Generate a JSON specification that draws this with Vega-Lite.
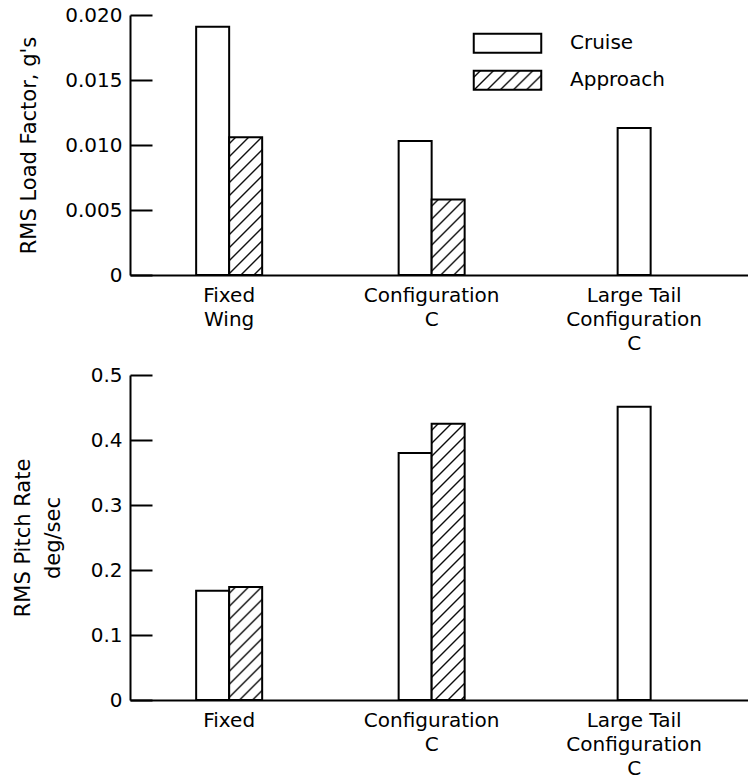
{
  "$schema": "https://vega.github.io/schema/vega-lite/v6.json",
  "padding": {"left": 12, "top": 5, "right": 0, "bottom": 0},
  "spacing": 12,
  "config": {
    "view": {"stroke": null},
    "font": "DejaVu Sans",
    "axis": {"domainColor": "black", "domainWidth": 2, "labelColor": "black", "titleColor": "black", "labelFontSize": 20, "titleFontSize": 21, "titleFontWeight": "normal", "grid": false, "labelFont": "DejaVu Sans", "titleFont": "DejaVu Sans"},
    "legend": {"labelFont": "DejaVu Sans", "title": null, "orient": "none", "direction": "vertical", "symbolType": "M-2.5,-0.7H2.5V0.7H-2.5Z", "symbolSize": 729, "symbolStrokeWidth": 2, "symbolStrokeColor": "black", "labelFontSize": 20, "labelColor": "black", "labelOffset": 48}
  },
  "vconcat": [
    {
      "width": 618,
      "height": 260,
      "data": {"values": [
        {"group": "Fixed Wing", "series": "Cruise", "value": 0.0191},
        {"group": "Fixed Wing", "series": "Approach", "value": 0.0106},
        {"group": "Configuration C", "series": "Cruise", "value": 0.0103},
        {"group": "Configuration C", "series": "Approach", "value": 0.0058},
        {"group": "Large Tail Configuration C", "series": "Cruise", "value": 0.0113}
      ]},
      "resolve": {"scale": {"stroke": "independent"}, "legend": {"stroke": "independent"}},
      "encoding": {
        "x": {"field": "group", "type": "nominal",
          "scale": {"domain": ["Fixed Wing", "Configuration C", "Large Tail Configuration C"], "paddingInner": 0.674, "paddingOuter": 0.363, "align": 0.45},
          "axis": {"title": null, "ticks": false, "labelAngle": 0, "labelPadding": 10, "labelLineHeight": 24, "labelOverlap": false, "labelFlush": false,
            "labelExpr": "datum.value == 'Large Tail Configuration C' ? ['Large Tail','Configuration','C'] : datum.value == 'Configuration C' ? ['Configuration','C'] : datum.value == 'Fixed Wing' ? ['Fixed','Wing'] : datum.value"}},
        "y": {"field": "value", "type": "quantitative",
          "scale": {"domain": [0, 0.02], "nice": false},
          "axis": {"title": "RMS Load Factor, g's", "values": [0, 0.005, 0.01, 0.015, 0.02], "labelExpr": "datum.value == 0 ? '0' : format(datum.value, '.3f')", "tickSize": -22, "tickWidth": 2, "tickColor": "black", "labelPadding": 30, "titlePadding": 25}}
      },
      "layer": [
        {
          "transform": [{"filter": "datum.series == 'Cruise' && datum.group != 'Large Tail Configuration C'"}],
          "mark": {"type": "bar", "strokeWidth": 2},
          "encoding": {
            "xOffset": {"field": "series", "type": "nominal", "scale": {"domain": ["Cruise", "Approach"], "paddingInner": 0, "paddingOuter": 0}},
            "fill": {"value": "white"},
            "stroke": {"field": "series", "type": "nominal", "scale": {"domain": ["Cruise"], "range": ["black"]},
              "legend": {"legendX": 363, "legendY": 13.8}}
          }
        },
        {
          "transform": [{"filter": "datum.series == 'Approach'"}],
          "mark": {"type": "bar", "strokeWidth": 2},
          "encoding": {
            "xOffset": {"field": "series", "type": "nominal", "scale": {"domain": ["Cruise", "Approach"], "paddingInner": 0, "paddingOuter": 0}},
            "stroke": {"field": "series", "type": "nominal", "scale": {"domain": ["Approach"], "range": ["black"]},
              "legend": {"legendX": 363, "legendY": 50.8}},
            "fill": {
              "condition": [
                {"test": "datum.group == 'Fixed Wing'", "value": {"gradient": "linear", "x1": 0, "y1": 0, "x2": 0.5128, "y2": 2.1414, "stops": [{"offset":0.0148,"color":"#fff"},{"offset":0.0208,"color":"#000"},{"offset":0.0268,"color":"#fff"},{"offset":0.0565,"color":"#fff"},{"offset":0.0625,"color":"#000"},{"offset":0.0685,"color":"#fff"},{"offset":0.0982,"color":"#fff"},{"offset":0.1042,"color":"#000"},{"offset":0.1102,"color":"#fff"},{"offset":0.1398,"color":"#fff"},{"offset":0.1458,"color":"#000"},{"offset":0.1518,"color":"#fff"},{"offset":0.1815,"color":"#fff"},{"offset":0.1875,"color":"#000"},{"offset":0.1935,"color":"#fff"},{"offset":0.2232,"color":"#fff"},{"offset":0.2292,"color":"#000"},{"offset":0.2352,"color":"#fff"},{"offset":0.2648,"color":"#fff"},{"offset":0.2708,"color":"#000"},{"offset":0.2768,"color":"#fff"},{"offset":0.3065,"color":"#fff"},{"offset":0.3125,"color":"#000"},{"offset":0.3185,"color":"#fff"},{"offset":0.3482,"color":"#fff"},{"offset":0.3542,"color":"#000"},{"offset":0.3602,"color":"#fff"},{"offset":0.3898,"color":"#fff"},{"offset":0.3958,"color":"#000"},{"offset":0.4018,"color":"#fff"},{"offset":0.4315,"color":"#fff"},{"offset":0.4375,"color":"#000"},{"offset":0.4435,"color":"#fff"},{"offset":0.4732,"color":"#fff"},{"offset":0.4792,"color":"#000"},{"offset":0.4852,"color":"#fff"},{"offset":0.5148,"color":"#fff"},{"offset":0.5208,"color":"#000"},{"offset":0.5268,"color":"#fff"},{"offset":0.5565,"color":"#fff"},{"offset":0.5625,"color":"#000"},{"offset":0.5685,"color":"#fff"}]}},
                {"test": "datum.group == 'Configuration C'", "value": {"gradient": "linear", "x1": 0, "y1": 0, "x2": 1.52, "y2": 3.4727, "stops": [{"offset":0.0148,"color":"#fff"},{"offset":0.0208,"color":"#000"},{"offset":0.0268,"color":"#fff"},{"offset":0.0565,"color":"#fff"},{"offset":0.0625,"color":"#000"},{"offset":0.0685,"color":"#fff"},{"offset":0.0982,"color":"#fff"},{"offset":0.1042,"color":"#000"},{"offset":0.1102,"color":"#fff"},{"offset":0.1398,"color":"#fff"},{"offset":0.1458,"color":"#000"},{"offset":0.1518,"color":"#fff"},{"offset":0.1815,"color":"#fff"},{"offset":0.1875,"color":"#000"},{"offset":0.1935,"color":"#fff"},{"offset":0.2232,"color":"#fff"},{"offset":0.2292,"color":"#000"},{"offset":0.2352,"color":"#fff"},{"offset":0.2648,"color":"#fff"},{"offset":0.2708,"color":"#000"},{"offset":0.2768,"color":"#fff"},{"offset":0.3065,"color":"#fff"},{"offset":0.3125,"color":"#000"},{"offset":0.3185,"color":"#fff"},{"offset":0.3482,"color":"#fff"},{"offset":0.3542,"color":"#000"},{"offset":0.3602,"color":"#fff"}]}}
              ],
              "value": {"gradient": "linear", "x1": 0, "y1": 0, "x2": 4.31, "y2": 1.2223, "stops": [{"offset":0.0148,"color":"#fff"},{"offset":0.0208,"color":"#000"},{"offset":0.0268,"color":"#fff"},{"offset":0.0565,"color":"#fff"},{"offset":0.0625,"color":"#000"},{"offset":0.0685,"color":"#fff"},{"offset":0.0982,"color":"#fff"},{"offset":0.1042,"color":"#000"},{"offset":0.1102,"color":"#fff"},{"offset":0.1398,"color":"#fff"},{"offset":0.1458,"color":"#000"},{"offset":0.1518,"color":"#fff"},{"offset":0.1815,"color":"#fff"},{"offset":0.1875,"color":"#000"},{"offset":0.1935,"color":"#fff"},{"offset":0.2232,"color":"#fff"},{"offset":0.2292,"color":"#000"},{"offset":0.2352,"color":"#fff"},{"offset":0.2648,"color":"#fff"},{"offset":0.2708,"color":"#000"},{"offset":0.2768,"color":"#fff"}]}
            }
          }
        },
        {
          "transform": [{"filter": "datum.group == 'Large Tail Configuration C'"}],
          "mark": {"type": "bar", "fill": "white", "stroke": "black", "strokeWidth": 2, "width": {"band": 0.5}},
          "encoding": {}
        }
      ]
    },
    {
      "width": 618,
      "height": 325,
      "data": {"values": [
        {"group": "Fixed", "series": "Cruise", "value": 0.168},
        {"group": "Fixed", "series": "Approach", "value": 0.174},
        {"group": "Configuration C", "series": "Cruise", "value": 0.38},
        {"group": "Configuration C", "series": "Approach", "value": 0.425},
        {"group": "Large Tail Configuration C", "series": "Cruise", "value": 0.451}
      ]},
      "encoding": {
        "x": {"field": "group", "type": "nominal",
          "scale": {"domain": ["Fixed", "Configuration C", "Large Tail Configuration C"], "paddingInner": 0.674, "paddingOuter": 0.363, "align": 0.45},
          "axis": {"title": null, "ticks": false, "labelAngle": 0, "labelPadding": 10, "labelLineHeight": 24, "labelOverlap": false, "labelFlush": false,
            "labelExpr": "datum.value == 'Large Tail Configuration C' ? ['Large Tail','Configuration','C'] : datum.value == 'Configuration C' ? ['Configuration','C'] : datum.value"}},
        "y": {"field": "value", "type": "quantitative",
          "scale": {"domain": [0, 0.5], "nice": false},
          "axis": {"title": ["RMS Pitch Rate", "deg/sec"], "titleLineHeight": 30, "values": [0, 0.1, 0.2, 0.3, 0.4, 0.5], "labelExpr": "datum.value == 0 ? '0' : format(datum.value, '.1f')", "tickSize": -22, "tickWidth": 2, "tickColor": "black", "labelPadding": 30, "titlePadding": 27}}
      },
      "layer": [
        {
          "transform": [{"filter": "datum.group != 'Large Tail Configuration C'"}],
          "mark": {"type": "bar", "strokeWidth": 2, "stroke": "black"},
          "encoding": {
            "xOffset": {"field": "series", "type": "nominal", "scale": {"domain": ["Cruise", "Approach"], "paddingInner": 0, "paddingOuter": 0}},
            "fill": {
              "condition": [
                {"test": "datum.series == 'Approach' && datum.group == 'Fixed'", "value": {"gradient": "linear", "x1": 0, "y1": 0, "x2": 0.7417, "y2": 2.5421, "stops": [{"offset":0.0148,"color":"#fff"},{"offset":0.0208,"color":"#000"},{"offset":0.0268,"color":"#fff"},{"offset":0.0565,"color":"#fff"},{"offset":0.0625,"color":"#000"},{"offset":0.0685,"color":"#fff"},{"offset":0.0982,"color":"#fff"},{"offset":0.1042,"color":"#000"},{"offset":0.1102,"color":"#fff"},{"offset":0.1398,"color":"#fff"},{"offset":0.1458,"color":"#000"},{"offset":0.1518,"color":"#fff"},{"offset":0.1815,"color":"#fff"},{"offset":0.1875,"color":"#000"},{"offset":0.1935,"color":"#fff"},{"offset":0.2232,"color":"#fff"},{"offset":0.2292,"color":"#000"},{"offset":0.2352,"color":"#fff"},{"offset":0.2648,"color":"#fff"},{"offset":0.2708,"color":"#000"},{"offset":0.2768,"color":"#fff"},{"offset":0.3065,"color":"#fff"},{"offset":0.3125,"color":"#000"},{"offset":0.3185,"color":"#fff"},{"offset":0.3482,"color":"#fff"},{"offset":0.3542,"color":"#000"},{"offset":0.3602,"color":"#fff"},{"offset":0.3898,"color":"#fff"},{"offset":0.3958,"color":"#000"},{"offset":0.4018,"color":"#fff"},{"offset":0.4315,"color":"#fff"},{"offset":0.4375,"color":"#000"},{"offset":0.4435,"color":"#fff"},{"offset":0.4732,"color":"#fff"},{"offset":0.4792,"color":"#000"},{"offset":0.4852,"color":"#fff"}]}},
                {"test": "datum.series == 'Approach'", "value": {"gradient": "linear", "x1": 0, "y1": 0, "x2": 0.133, "y2": 1.1135, "stops": [{"offset":0.0148,"color":"#fff"},{"offset":0.0208,"color":"#000"},{"offset":0.0268,"color":"#fff"},{"offset":0.0565,"color":"#fff"},{"offset":0.0625,"color":"#000"},{"offset":0.0685,"color":"#fff"},{"offset":0.0982,"color":"#fff"},{"offset":0.1042,"color":"#000"},{"offset":0.1102,"color":"#fff"},{"offset":0.1398,"color":"#fff"},{"offset":0.1458,"color":"#000"},{"offset":0.1518,"color":"#fff"},{"offset":0.1815,"color":"#fff"},{"offset":0.1875,"color":"#000"},{"offset":0.1935,"color":"#fff"},{"offset":0.2232,"color":"#fff"},{"offset":0.2292,"color":"#000"},{"offset":0.2352,"color":"#fff"},{"offset":0.2648,"color":"#fff"},{"offset":0.2708,"color":"#000"},{"offset":0.2768,"color":"#fff"},{"offset":0.3065,"color":"#fff"},{"offset":0.3125,"color":"#000"},{"offset":0.3185,"color":"#fff"},{"offset":0.3482,"color":"#fff"},{"offset":0.3542,"color":"#000"},{"offset":0.3602,"color":"#fff"},{"offset":0.3898,"color":"#fff"},{"offset":0.3958,"color":"#000"},{"offset":0.4018,"color":"#fff"},{"offset":0.4315,"color":"#fff"},{"offset":0.4375,"color":"#000"},{"offset":0.4435,"color":"#fff"},{"offset":0.4732,"color":"#fff"},{"offset":0.4792,"color":"#000"},{"offset":0.4852,"color":"#fff"},{"offset":0.5148,"color":"#fff"},{"offset":0.5208,"color":"#000"},{"offset":0.5268,"color":"#fff"},{"offset":0.5565,"color":"#fff"},{"offset":0.5625,"color":"#000"},{"offset":0.5685,"color":"#fff"},{"offset":0.5982,"color":"#fff"},{"offset":0.6042,"color":"#000"},{"offset":0.6102,"color":"#fff"},{"offset":0.6398,"color":"#fff"},{"offset":0.6458,"color":"#000"},{"offset":0.6518,"color":"#fff"},{"offset":0.6815,"color":"#fff"},{"offset":0.6875,"color":"#000"},{"offset":0.6935,"color":"#fff"},{"offset":0.7232,"color":"#fff"},{"offset":0.7292,"color":"#000"},{"offset":0.7352,"color":"#fff"},{"offset":0.7648,"color":"#fff"},{"offset":0.7708,"color":"#000"},{"offset":0.7768,"color":"#fff"},{"offset":0.8065,"color":"#fff"},{"offset":0.8125,"color":"#000"},{"offset":0.8185,"color":"#fff"},{"offset":0.8482,"color":"#fff"},{"offset":0.8542,"color":"#000"},{"offset":0.8602,"color":"#fff"},{"offset":0.8898,"color":"#fff"},{"offset":0.8958,"color":"#000"},{"offset":0.9018,"color":"#fff"},{"offset":0.9315,"color":"#fff"},{"offset":0.9375,"color":"#000"},{"offset":0.9435,"color":"#fff"},{"offset":0.9732,"color":"#fff"},{"offset":0.9792,"color":"#000"},{"offset":0.9852,"color":"#fff"}]}}
              ],
              "value": "white"
            }
          }
        },
        {
          "transform": [{"filter": "datum.group == 'Large Tail Configuration C'"}],
          "mark": {"type": "bar", "fill": "white", "stroke": "black", "strokeWidth": 2, "width": {"band": 0.5}},
          "encoding": {}
        }
      ]
    }
  ]
}
